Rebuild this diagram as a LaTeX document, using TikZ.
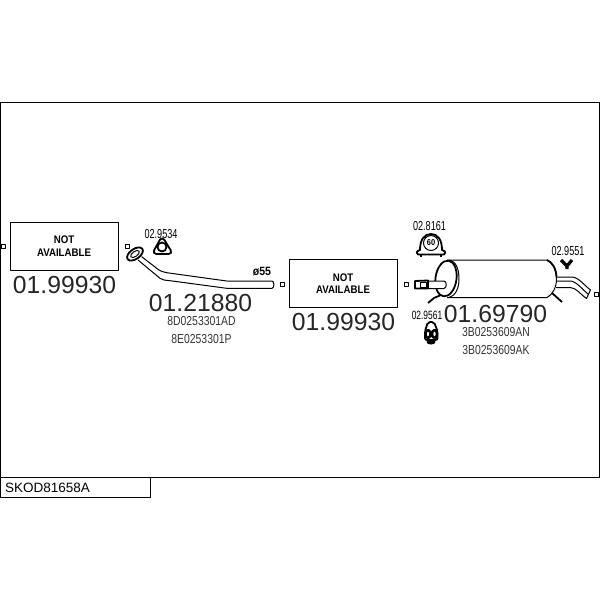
\documentclass[tikz,border=0pt]{standalone}
\usepackage{fontspec}
\setmainfont{Liberation Sans}
\newfontfamily\narrowfont[FakeStretch=0.70]{Liberation Sans}
\newfontfamily\oemfont[FakeStretch=0.80]{Liberation Sans}
\newfontfamily\boldnarrow[FakeStretch=0.88]{Liberation Sans Bold}
\begin{document}
\begin{tikzpicture}[x=1pt,y=-1pt,line join=round,
            partno/.style = {font=\fontsize{24.7}{26}\selectfont, inner sep=0pt, text=black!85},
            oemno/.style = {font=\oemfont\fontsize{13}{14}\selectfont, inner sep=0pt, text=black!80},
            refno/.style = {font=\narrowfont\fontsize{13}{14}\selectfont, inner sep=0pt},
            nabox/.style = {draw, line width=1pt, minimum width=108pt, minimum height=48pt, inner sep=0pt, align=center,
                            font=\boldnarrow\fontsize{11}{12.5}\selectfont},
            marker/.style = {draw, line width=.9pt, minimum size=4pt, inner sep=0pt},
            part/.style = {line width=1pt},
            heavy/.style = {line width=1.8pt}]
	\useasboundingbox (0,0) rectangle (600,600);
	\draw[line width=1pt] (0,102) rectangle (599.5,477);
	\node[draw, line width=1.2pt, minimum width=150pt, minimum height=20pt, anchor=north west, inner sep=0pt] (code) at (0,477) {};
	\node[anchor=west, inner sep=0pt, font=\fontsize{13.5}{14}\selectfont] (codetext) at (5,488) {SKOD81658A};

	% boxes
	\node[nabox] (naone) at (64,246) {NOT\\AVAILABLE};
	\node[nabox] (natwo) at (343,283.5) {NOT\\AVAILABLE};
	\node[partno] (numone) at (64.5,285) {01.99930};
	\node[partno] (numtwo) at (343.5,322) {01.99930};

	% markers
	\node[marker] (ma) at (3,246) {};
	\node[marker] (mb) at (127,246) {};
	\node[marker] (mc) at (282,284) {};
	\node[marker] (md) at (406,284) {};
	\node[marker] (me) at (596,294) {};

	% front pipe
	\draw[part] (141.7,256.7) -- (156.7,268.3) .. controls (160,271) and (163,272.2) .. (166.7,272.7) -- (226.7,281) -- (272,281)
		.. controls (274.5,281) and (274.5,288.3) .. (272,288.3) -- (226.7,288.3) -- (170,280.7) .. controls (165,280) and (163,280.5) .. (160,278.3) -- (138,260);
	\draw[heavy,fill=white,rotate around={35:(135,254)}] (135,254) ellipse (9 and 5);
	\draw[part,rotate around={35:(135,254)}] (135,254) ellipse (5 and 2.5);
	\node[refno] (gasketa) at (161,234) {02.9534};
	\draw[heavy,rounded corners=4.5pt] (162,236) -- (173,254) -- (152,254) -- cycle;
	\draw[heavy] (162,247) circle (4.5);
	\node[inner sep=0pt, font=\boldnarrow\fontsize{12}{12}\selectfont] (dia) at (262,272) {ø55};
	\node[partno] (numthree) at (200.5,303) {01.21880};
	\node[oemno] (oema) at (201.5,321) {8D0253301AD};
	\node[oemno] (oemb) at (201.5,339) {8E0253301P};

	% rear silencer
	\draw[part] (447,260) -- (547,260) .. controls (552,262) and (557,270) .. (556.5,279) .. controls (556.5,288) and (552,295) .. (547,297.5) -- (447,297.5);
	\draw[heavy] (547,260) .. controls (552,262) and (556,268) .. (556.5,277);
	\draw[heavy,rotate around={-8:(446,278.5)}] (446,278.5) ellipse (10.5 and 18);
	\draw[part] (449,260) .. controls (456,261) and (459,269) .. (459,279) .. controls (459,289) and (455,296) .. (449,297.5);
	\draw[part,fill=white] (428,281) -- (444,281) .. controls (447,281) and (447,288) .. (444,288.5) -- (428,288.5);
	\draw[heavy,fill=white] (415,281) -- (428,280.5) -- (428,288.5) -- (415,288.5) -- cycle;
	\draw[part] (420,282) rectangle (426,287);
	\draw[heavy] (428,303) -- (434,298) -- (441,295);
	\draw[heavy] (552,293) -- (562,302);
	\draw[part] (557,277) -- (572,277) .. controls (578,277) and (584,285) .. (590.5,290) -- (586.5,298.5) .. controls (580,294) and (576,287.5) .. (570,287.5) -- (556,287.5);
	\draw[part] (557,281) -- (570,281) .. controls (576,281) and (582,289) .. (588,294);
	\node[partno] (numfour) at (495.5,314) {01.69790};
	\node[oemno] (oemc) at (496,332) {3B0253609AN};
	\node[oemno] (oemd) at (496,350) {3B0253609AK};

	% clamp and hangers
	\node[refno] (clamp) at (429.5,226) {02.8161};
	\draw[heavy,fill=white] (420,250) .. controls (420,240) and (424,234) .. (431,234) .. controls (438,234) and (442,240) .. (442,250)
		.. controls (446,251) and (446,254) .. (444,254.5) -- (418,254.5) .. controls (416,254) and (416,251) .. (420,250) -- cycle;
	\draw[heavy] (421,254.5) -- (421,257) (441,254.5) -- (441,257);
	\draw[part,fill=white] (431,243) circle (7.5);
	\node[inner sep=0pt, font=\boldnarrow\fontsize{8.5}{9}\selectfont] (clampsize) at (431,243) {60};
	\node[refno] (hangera) at (568,251) {02.9551};
	\draw[line width=3.2pt] (561,260) -- (567,266) -- (572,260) (567,265) -- (567,269);
	\node[refno, font=\narrowfont\fontsize{12}{13}\selectfont] (hangerb) at (427,315) {02.9561};
	\draw[heavy,fill=white,rounded corners=2pt] (428,322) -- (434,322) -- (437.5,331) -- (437.5,340) -- (425,340) -- (425,331) -- cycle;
	\fill (431,342) ellipse (4.5 and 2.5);
	\draw[line width=2.4pt] (428,334) ellipse (2.5 and 4) (434.5,334) ellipse (2.5 and 4);
\end{tikzpicture}
\end{document}
